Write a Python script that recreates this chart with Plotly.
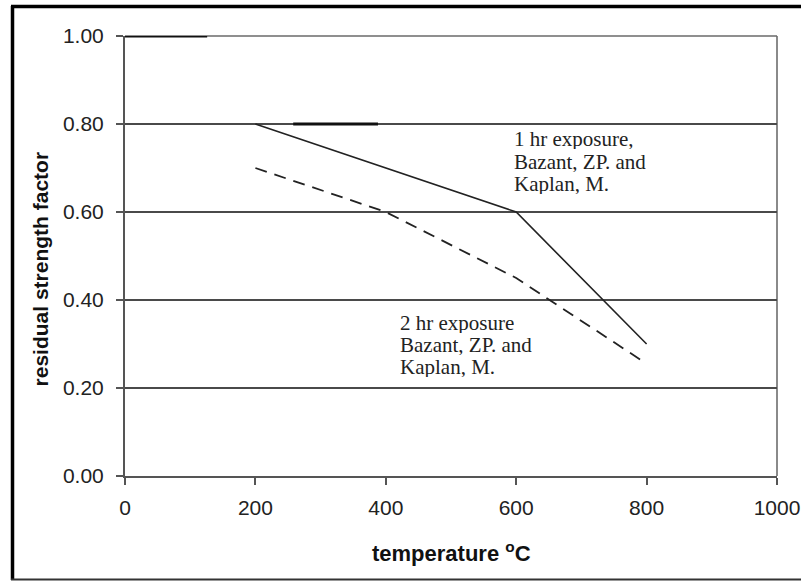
import plotly.graph_objects as go

# Data
temp_1hr = [200, 600, 800]
factor_1hr = [0.80, 0.60, 0.30]

temp_2hr = [200, 300, 400, 600, 795]
factor_2hr = [0.70, 0.65, 0.60, 0.45, 0.26]

# faint bold remnants visible on the gridlines
seg_a_x = [0, 126]
seg_a_y = [1.00, 1.00]
seg_b_x = [258, 388]
seg_b_y = [0.80, 0.80]

x_ticks = [0, 200, 400, 600, 800, 1000]
y_ticks = [0.0, 0.2, 0.4, 0.6, 0.8, 1.0]
y_tick_labels = ["0.00", "0.20", "0.40", "0.60", "0.80", "1.00"]

label_1hr = ["1 hr exposure,", "Bazant, ZP. and", "Kaplan, M."]
label_2hr = ["2 hr exposure", "Bazant, ZP. and", "Kaplan, M."]

fig = go.Figure()

fig.add_trace(go.Scatter(x=temp_1hr, y=factor_1hr, mode="lines",
                         line=dict(color="#222222", width=1.6), showlegend=False))
fig.add_trace(go.Scatter(x=temp_2hr, y=factor_2hr, mode="lines",
                         line=dict(color="#222222", width=1.8, dash="12px,8px"),
                         showlegend=False))
fig.add_trace(go.Scatter(x=seg_a_x, y=seg_a_y, mode="lines", cliponaxis=False,
                         line=dict(color="#111111", width=3), showlegend=False))
fig.add_trace(go.Scatter(x=seg_b_x, y=seg_b_y, mode="lines", cliponaxis=False,
                         line=dict(color="#111111", width=3), showlegend=False))

annotations = []
y1 = [0.766, 0.715, 0.665]
for t, yy in zip(label_1hr, y1):
    annotations.append(dict(x=593.6, y=yy, xref="x", yref="y", text=t, showarrow=False,
                            xanchor="left", yanchor="middle", height=21, valign="middle",
                            font=dict(family="Liberation Serif", size=21, color="#222222")))
y2 = [0.348, 0.300, 0.250]
for t, yy in zip(label_2hr, y2):
    annotations.append(dict(x=418.7, y=yy, xref="x", yref="y", text=t, showarrow=False,
                            xanchor="left", yanchor="middle", height=21, valign="middle",
                            font=dict(family="Liberation Serif", size=21, color="#222222")))

# axis titles
annotations.append(dict(x=-0.130, y=0.47, xref="paper", yref="paper",
                        text="<b>residual strength factor</b>", textangle=-90,
                        showarrow=False, xanchor="center", yanchor="middle",
                        font=dict(family="Liberation Sans", size=21, color="#111111")))
annotations.append(dict(x=0.5, y=(476 - 552) / 440, xref="paper", yref="paper",
                        text="<b>temperature <sup>o</sup>C</b>",
                        showarrow=False, xanchor="center", yanchor="middle",
                        font=dict(family="Liberation Sans", size=22, color="#111111")))

def px_x(p):
    return (p - 125) / 652

def px_y(p):
    return (476 - p) / 440

shapes = [
    # outer frame
    dict(type="line", xref="paper", yref="paper", x0=px_x(12.5), x1=px_x(12.5),
         y0=px_y(6), y1=px_y(580), line=dict(color="#000000", width=3.5)),
    dict(type="line", xref="paper", yref="paper", x0=px_x(11), x1=px_x(805),
         y0=px_y(6.5), y1=px_y(6.5), line=dict(color="#000000", width=3.5)),
    dict(type="line", xref="paper", yref="paper", x0=px_x(11), x1=px_x(805),
         y0=px_y(579.5), y1=px_y(579.5), line=dict(color="#333333", width=2)),
    # right border of plot area
    dict(type="line", xref="paper", yref="paper", x0=1, x1=1, y0=0, y1=1,
         line=dict(color="#8a8a8a", width=2), layer="below"),
    # top gridline (1.00)
    dict(type="line", xref="paper", yref="paper", x0=0, x1=1, y0=1, y1=1,
         line=dict(color="#6a6a6a", width=1.5), layer="below"),
]

fig.update_layout(
    width=801, height=581,
    margin=dict(l=125, r=24, t=36, b=105),
    paper_bgcolor="white", plot_bgcolor="white",
    annotations=annotations, shapes=shapes,
    xaxis=dict(range=[0, 1000], tickvals=x_ticks, ticktext=[str(v) for v in x_ticks],
               automargin=False,
               showgrid=False, zeroline=False, showline=True, linecolor="#555555",
               linewidth=2, ticks="outside", ticklen=7, tickwidth=1.5, tickcolor="#555555",
               tickfont=dict(family="Liberation Sans", size=21, color="#222222"),
               ticklabelstandoff=5),
    yaxis=dict(range=[0, 1.0], tickvals=y_ticks, ticktext=y_tick_labels,
               automargin=False,
               showgrid=True, gridcolor="#4a4a4a", gridwidth=1.5,
               zeroline=False, showline=True, linecolor="#555555",
               linewidth=2, ticks="outside", ticklen=7, tickwidth=1.5, tickcolor="#555555",
               tickfont=dict(family="Liberation Sans", size=21, color="#222222"),
               ticklabelstandoff=8),
)

fig.write_html("out.html")
